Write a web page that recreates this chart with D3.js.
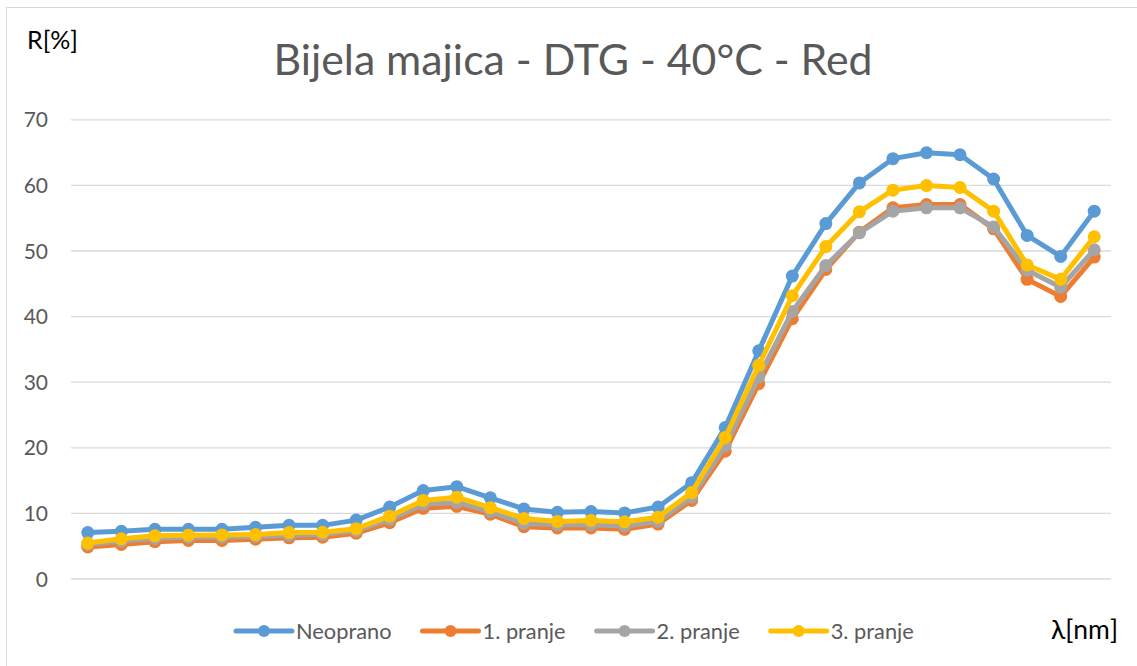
<!DOCTYPE html>
<html>
<head>
<meta charset="utf-8">
<script src="https://cdn.jsdelivr.net/npm/d3@7"></script>
<style>
  html, body { margin: 0; padding: 0; background: #fff; }
  svg { display: block; }
</style>
</head>
<body>
<svg id="chart" width="1137" height="666"></svg>
<script>
// ---- data ----
const wavelengths = d3.range(400, 701, 10); // 31 categories (unlabelled on the chart)
const yTicks = [0, 10, 20, 30, 40, 50, 60, 70];
const seriesNames = ["Neoprano", "1. pranje", "2. pranje", "3. pranje"];
const seriesColors = ["#5B9BD5", "#ED7D31", "#A5A5A5", "#FFC000"];
const neoprano = [7.0, 7.2, 7.5, 7.5, 7.5, 7.8, 8.1, 8.1, 8.9, 10.9, 13.4, 14.0, 12.3, 10.6, 10.1, 10.2, 10.0, 10.9, 14.6, 23.0, 34.7, 46.1, 54.1, 60.3, 64.0, 64.9, 64.6, 60.9, 52.3, 49.1, 56.0];
const pranje1 = [4.8, 5.2, 5.6, 5.8, 5.8, 6.0, 6.2, 6.3, 6.9, 8.5, 10.7, 11.0, 9.8, 7.9, 7.7, 7.7, 7.5, 8.3, 11.9, 19.4, 29.7, 39.6, 47.1, 52.8, 56.5, 57.0, 57.0, 53.3, 45.6, 43.0, 49.0];
const pranje2 = [5.2, 5.7, 6.1, 6.3, 6.3, 6.4, 6.6, 6.7, 7.3, 9.0, 11.3, 11.6, 10.2, 8.4, 8.2, 8.2, 8.0, 8.7, 12.4, 20.2, 30.7, 40.7, 47.7, 52.7, 56.0, 56.5, 56.5, 53.6, 47.0, 44.4, 50.1];
const pranje3 = [5.4, 6.05, 6.5, 6.6, 6.65, 6.7, 7.0, 7.05, 7.6, 9.5, 11.9, 12.4, 10.8, 9.15, 8.7, 8.85, 8.65, 9.35, 13.1, 21.5, 32.5, 43.1, 50.6, 55.9, 59.2, 59.9, 59.6, 56.0, 47.8, 45.6, 52.1];
const titleText = "Bijela majica - DTG - 40°C - Red";
const yAxisTitle = "R[%]";
const xAxisTitle = "λ[nm]";

const seriesValues = [neoprano, pranje1, pranje2, pranje3];
const series = seriesNames.map((n, i) => ({ name: n, color: seriesColors[i], values: seriesValues[i] }));

// ---- layout ----
const svg = d3.select("#chart");
const plot = { left: 71, right: 1111, top: 119.3, bottom: 578.5 };
const font = "Lato, 'Liberation Sans', Arial, sans-serif";
const textGray = "#595959";

// chart frame (only left/top edges visible in the picture)
svg.append("rect").attr("x", 6.5).attr("y", 7.5).attr("width", 1140).attr("height", 670)
  .attr("fill", "#fff").attr("stroke", "#D9D9D9").attr("stroke-width", 1);

const x = d3.scaleBand().domain(wavelengths).range([plot.left, plot.right]).padding(0);
const y = d3.scaleLinear().domain([0, 70]).range([plot.bottom, plot.top]);
const cx = d => x(d) + x.bandwidth() / 2;

// gridlines + y axis labels
const yAxis = d3.axisLeft(y).tickValues(yTicks).tickSize(-(plot.right - plot.left)).tickPadding(23);
const gy = svg.append("g").attr("transform", `translate(${plot.left},0)`).call(yAxis);
gy.select(".domain").remove();
gy.selectAll(".tick line").attr("stroke", "#D9D9D9").attr("stroke-width", 1.3);
gy.selectAll(".tick text").attr("fill", textGray).attr("font-family", font).attr("font-size", 21)
  .attr("dy", "0.36em");

// series
const line = d3.line().x((d, i) => cx(wavelengths[i])).y(d => y(d));
series.forEach(s => {
  const g = svg.append("g");
  g.append("path").datum(s.values).attr("d", line).attr("fill", "none")
    .attr("stroke", s.color).attr("stroke-width", 5).attr("stroke-linejoin", "round").attr("stroke-linecap", "round");
  g.selectAll("circle").data(s.values).join("circle")
    .attr("cx", (d, i) => cx(wavelengths[i])).attr("cy", d => y(d)).attr("r", 6.5).attr("fill", s.color);
});

// title
svg.append("text").attr("x", 573).attr("y", 75).attr("text-anchor", "middle")
  .attr("font-family", font).attr("font-size", 42.8).attr("fill", textGray).text(titleText);

// axis titles
svg.append("text").attr("x", 27).attr("y", 49).attr("font-family", font).attr("font-size", 25)
  .attr("fill", "#000").text(yAxisTitle);
svg.append("text").attr("x", 1118).attr("y", 639).attr("text-anchor", "end").attr("font-family", font)
  .attr("font-size", 26.5).attr("fill", "#000").text(xAxisTitle);

// legend
const legY = 631;
let lx = 236;
series.forEach(s => {
  const g = svg.append("g");
  g.append("line").attr("x1", lx).attr("x2", lx + 56).attr("y1", legY).attr("y2", legY)
    .attr("stroke", s.color).attr("stroke-width", 5).attr("stroke-linecap", "round");
  g.append("circle").attr("cx", lx + 28).attr("cy", legY).attr("r", 6).attr("fill", s.color);
  const t = g.append("text").attr("x", lx + 60).attr("y", legY + 7.5).attr("font-family", font)
    .attr("font-size", 21.8).attr("fill", textGray).text(s.name);
  const w = t.node().getComputedTextLength();
  lx = lx + 60 + w + 31;
});
</script>
</body>
</html>
